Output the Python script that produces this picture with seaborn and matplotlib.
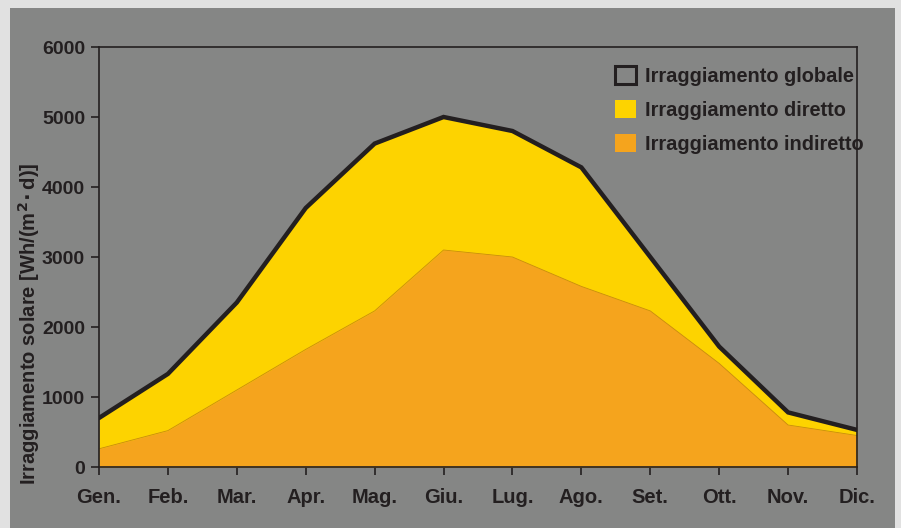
import numpy as np
import pandas as pd
import matplotlib
matplotlib.use("Agg")
import matplotlib.pyplot as plt
import seaborn as sns
from matplotlib.patches import Rectangle, Patch

# ── Data ──────────────────────────────────────────────────────────────────────
months = ["Gen.", "Feb.", "Mar.", "Apr.", "Mag.", "Giu.",
          "Lug.", "Ago.", "Set.", "Ott.", "Nov.", "Dic."]
globale = [700, 1330, 2350, 3700, 4620, 5000, 4800, 4280, 3000, 1720, 780, 530]
indiretto = [260, 520, 1100, 1680, 2230, 3100, 3000, 2580, 2230, 1480, 600, 450]
y_ticks = [0, 1000, 2000, 3000, 4000, 5000, 6000]

# ── Style ─────────────────────────────────────────────────────────────────────
BG = "#858685"
YELLOW = "#FDD300"
ORANGE = "#F5A41D"
DARK = "#231F20"

sns.set_style("ticks")
plt.rcParams["font.family"] = ["Liberation Sans", "DejaVu Sans"]
plt.rcParams["font.weight"] = "bold"

df = pd.DataFrame({"x": np.arange(len(months)), "globale": globale,
                   "indiretto": indiretto})

fig = plt.figure(figsize=(9.01, 5.28), dpi=100)
fig.patch.set_facecolor("#E1E1E1")
fig.add_artist(Rectangle((10 / 901, 0), (895 - 10) / 901, (528 - 8) / 528,
                         transform=fig.transFigure, facecolor=BG,
                         edgecolor="none", zorder=-10))

ax = fig.add_axes([99 / 901, (528 - 467) / 528, (857 - 99) / 901, (467 - 47) / 528])
ax.set_facecolor(BG)

ax.fill_between(df["x"], 0, df["globale"], color=YELLOW, lw=0, zorder=1)
ax.fill_between(df["x"], 0, df["indiretto"], color=ORANGE, lw=0, zorder=2)
ax.plot(df["x"], df["indiretto"], color="#C98A10", lw=0.6, zorder=3)
sns.lineplot(data=df, x="x", y="globale", color=DARK, lw=3.2, ax=ax, zorder=4,
             solid_joinstyle="miter")

ax.set_xlim(0, len(months) - 1)
ax.set_ylim(0, 6000)
ax.set_xticks(df["x"])
ax.set_xticklabels(months)
ax.set_yticks(y_ticks)
ax.set_xlabel("")
ax.set_ylabel("Irraggiamento solare [Wh/(m$^{\\mathbf{2}}\\!\\cdot$d)]",
              fontsize=14.5, color=DARK, fontweight="bold")
ax.yaxis.set_label_coords(-0.075, 0.34)
ax.tick_params(axis="both", colors=DARK, labelcolor=DARK, labelsize=14.5,
               length=6, width=1.2, direction="out")
ax.tick_params(axis="x", pad=9)
ax.tick_params(axis="y", pad=4, labelsize=14)
for s in ax.spines.values():
    s.set_color(DARK)
    s.set_linewidth(1.2)
    s.set_zorder(5)

handles = [Patch(facecolor="none", edgecolor=DARK, linewidth=2.2),
           Patch(facecolor=YELLOW, edgecolor="none"),
           Patch(facecolor=ORANGE, edgecolor="none")]
labels = ["Irraggiamento globale", "Irraggiamento diretto", "Irraggiamento indiretto"]
leg = ax.legend(handles, labels, loc="upper left", bbox_to_anchor=(0.67, 0.975),
                frameon=False, fontsize=14.4, handlelength=1.05, handleheight=1.05,
                handletextpad=0.45, labelspacing=0.7, borderaxespad=0)
for t in leg.get_texts():
    t.set_color(DARK)
    t.set_fontweight("bold")

fig.savefig("out.png", dpi=100, facecolor=fig.get_facecolor())
